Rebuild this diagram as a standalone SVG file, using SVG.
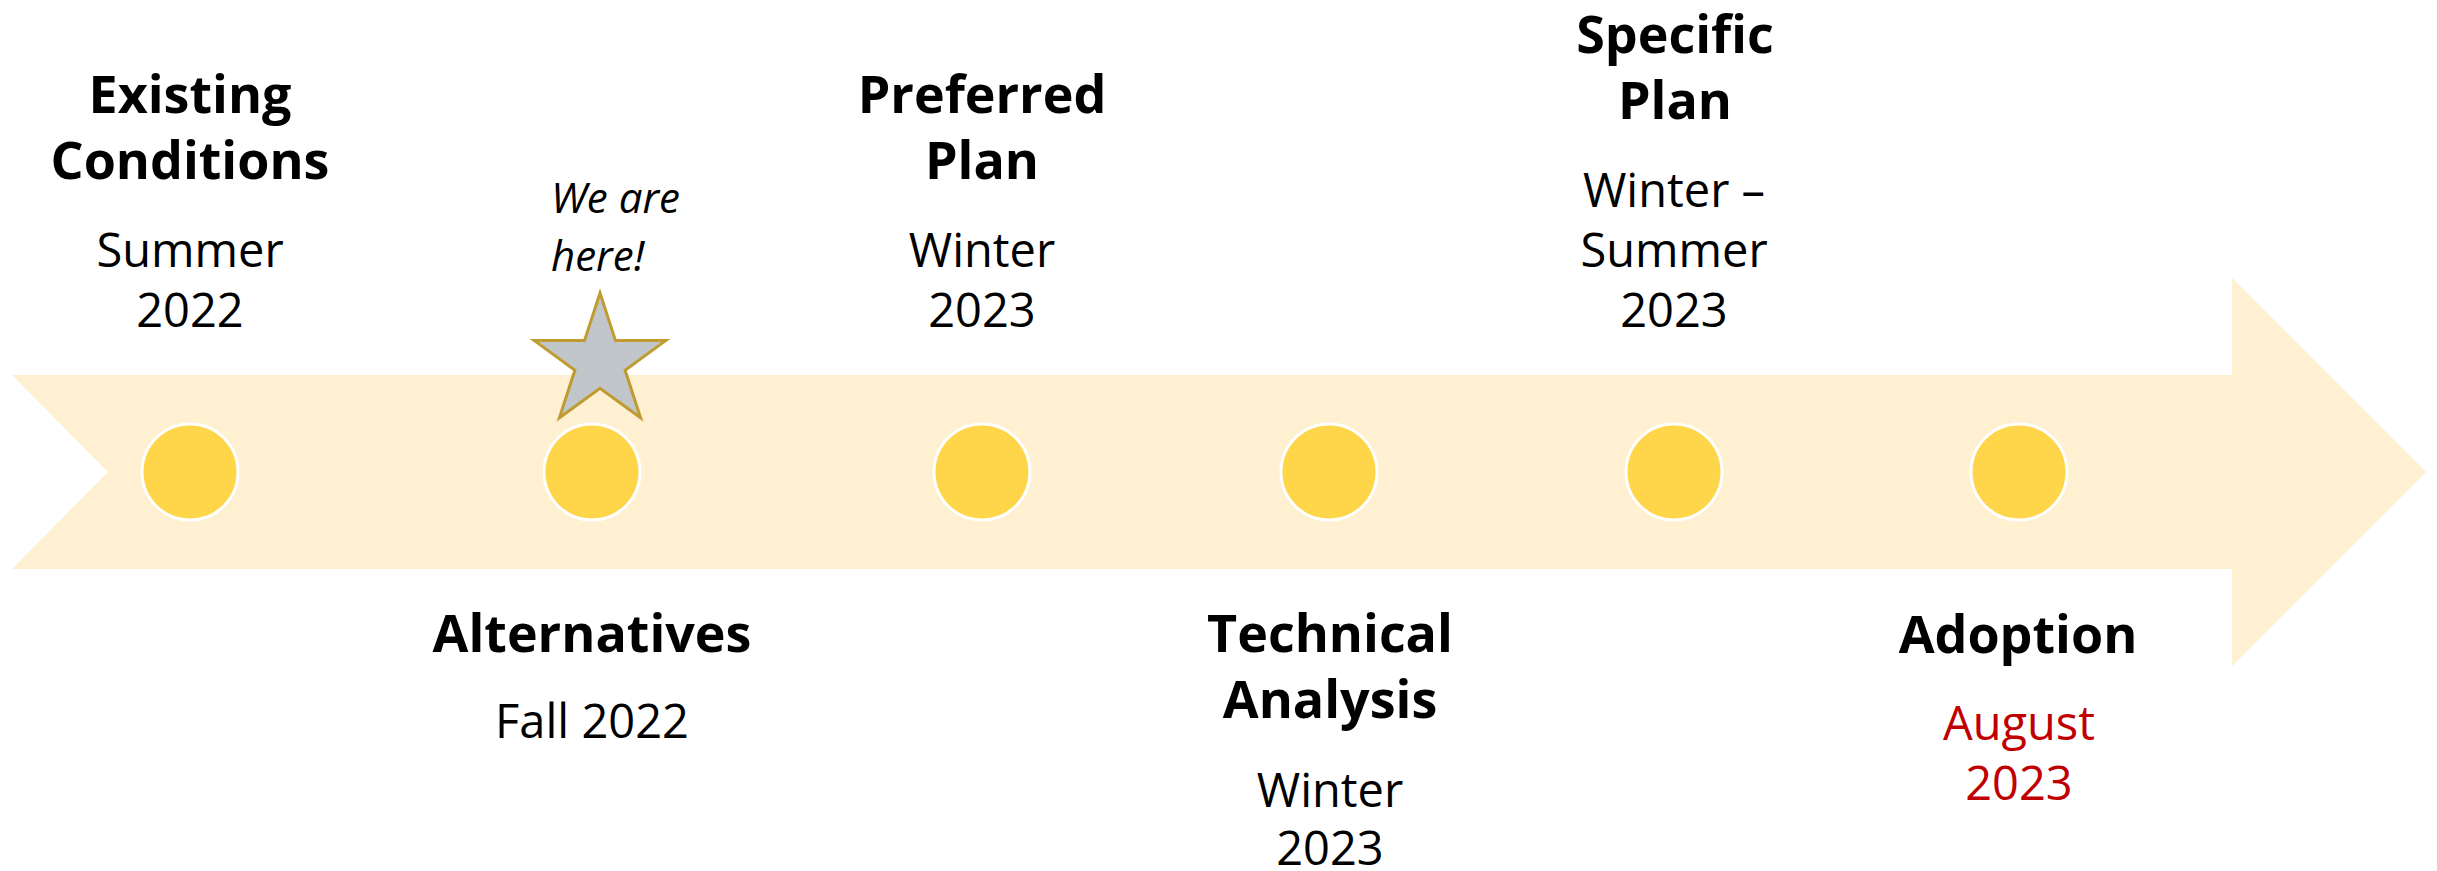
<svg xmlns="http://www.w3.org/2000/svg" width="2437" height="871" viewBox="0 0 2437 871">
<defs>
<style>
.t{font-family:"Open Sans","Noto Sans","Liberation Sans",sans-serif;text-anchor:middle;fill:#000}
.b{font-size:52px;font-weight:700}
.r{font-size:47px;font-weight:400}
.i{font-size:42px;font-style:italic;text-anchor:start}
.red{fill:#C00000}
.dot{fill:#FFD64A;stroke:#FFFFFF;stroke-width:3}
</style>
</defs>
<rect width="2437" height="871" fill="#FFFFFF"/>
<g id="arrow">
<polygon points="12,375 2232,375 2232,278 2426,472 2232,666 2232,569 12,569 108,472" fill="#FEF0D0"/>
</g>
<g id="connectors"></g>
<g id="existing-conditions">
<circle class="dot" cx="190" cy="472" r="48"/>
<text class="t b" x="190" y="113">Existing</text>
<text class="t b" x="190" y="179">Conditions</text>
<text class="t r" x="190" y="267">Summer</text>
<text class="t r" x="190" y="327">2022</text>
</g>
<g id="alternatives">
<circle class="dot" cx="592" cy="472" r="48"/>
<text class="t b" x="592" y="652">Alternatives</text>
<text class="t r" x="592" y="738">Fall 2022</text>
</g>
<g id="we-are-here">
<polygon points="600,293 615.5,340.6 665.6,340.6 625.1,370.2 640.6,417.8 600,388.4 559.4,417.8 574.9,370.2 534.4,340.6 584.5,340.6" fill="#C1C6CA" stroke="#BF9B30" stroke-width="3"/>
<text class="t i" x="551" y="213">We are</text>
<text class="t i" x="551" y="271">here!</text>
</g>
<g id="preferred-plan">
<circle class="dot" cx="982" cy="472" r="48"/>
<text class="t b" x="982" y="113">Preferred</text>
<text class="t b" x="982" y="179">Plan</text>
<text class="t r" x="982" y="267">Winter</text>
<text class="t r" x="982" y="327">2023</text>
</g>
<g id="technical-analysis">
<circle class="dot" cx="1329" cy="472" r="48"/>
<text class="t b" x="1330" y="652">Technical</text>
<text class="t b" x="1330" y="718">Analysis</text>
<text class="t r" x="1330" y="807">Winter</text>
<text class="t r" x="1330" y="865">2023</text>
</g>
<g id="specific-plan">
<circle class="dot" cx="1674" cy="472" r="48"/>
<text class="t b" x="1675" y="53">Specific</text>
<text class="t b" x="1675" y="119">Plan</text>
<text class="t r" x="1674" y="207">Winter –</text>
<text class="t r" x="1674" y="267">Summer</text>
<text class="t r" x="1674" y="327">2023</text>
</g>
<g id="adoption">
<circle class="dot" cx="2019" cy="472" r="48"/>
<text class="t b" x="2018" y="653">Adoption</text>
<text class="t r red" x="2019" y="740">August</text>
<text class="t r red" x="2019" y="800">2023</text>
</g>
</svg>
